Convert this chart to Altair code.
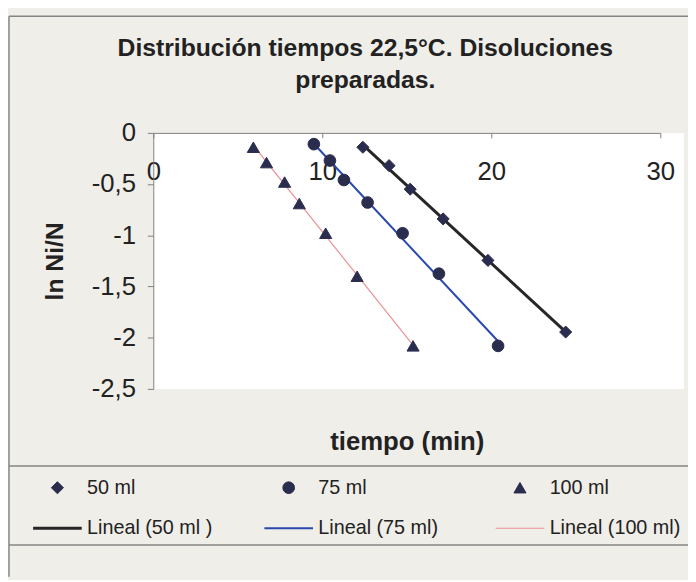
import altair as alt
import pandas as pd

# ---- data ----
t_50 = [12.4, 13.95, 15.2, 17.15, 19.8, 24.4]
v_50 = [-0.14, -0.32, -0.55, -0.84, -1.245, -1.945]
t_75 = [9.5, 10.45, 11.28, 12.68, 14.75, 16.9, 20.4]
v_75 = [-0.11, -0.27, -0.46, -0.68, -0.98, -1.375, -2.08]
t_100 = [5.92, 6.7, 7.77, 8.64, 10.2, 12.06, 15.37]
v_100 = [-0.14, -0.29, -0.48, -0.69, -0.98, -1.40, -2.08]

point_labels = ["50 ml", "75 ml", "100 ml"]
line_labels = ["Lineal (50 ml )", "Lineal (75 ml)", "Lineal (100 ml)"]
x_ticks = [0, 10, 20, 30]
y_ticks = [0, -0.5, -1, -1.5, -2, -2.5]
title_lines = ["Distribución tiempos 22,5°C. Disoluciones", "preparadas."]

rows = []
for lab, llab, ts, vs in zip(point_labels, line_labels, [t_50, t_75, t_100], [v_50, v_75, v_100]):
    for t, v in zip(ts, vs):
        rows.append({"serie": lab, "linea": llab, "t": t, "v": v})
df = pd.DataFrame(rows)

FONT = "Liberation Sans"
TXT = "#222222"
MARK = "#2b2d4e"
LINE = "M-5.5,0H5.5"
domain = point_labels + line_labels

fill_scale = alt.Scale(domain=domain, range=[MARK] * 6)
stroke_scale = alt.Scale(domain=domain, range=[MARK, MARK, MARK, "#262626", "#2848b0", "#ec8f95"])
shape_scale = alt.Scale(domain=domain, range=["diamond", "circle", "triangle-up", LINE, LINE, LINE])
size_scale = alt.Scale(type="ordinal", domain=domain, range=[150, 140, 150, 80, 80, 80])
sw_scale = alt.Scale(type="ordinal", domain=domain, range=[1, 1, 1, 3, 2, 1.2])

XR, W, H = 513, 537, 259

leg = alt.Legend(
    title=None, orient="none", legendX=-107, legendY=349, columns=3,
    direction="horizontal", columnPadding=42, rowPadding=21, labelOffset=20,
    labelFontSize=20, labelFont=FONT, labelColor=TXT, symbolOpacity=1,
    padding=0, gridAlign="all", labelLimit=300,
)

x_enc = alt.X(
    "t:Q",
    scale=alt.Scale(domain=[0, 30], nice=False, range=[0, XR]),
    axis=alt.Axis(
        values=x_ticks, orient="bottom", offset=-H, grid=False,
        labelFontSize=26, labelFont=FONT, labelColor=TXT, labelFlush=False,
        labelPadding=21, tickSize=5, tickColor="#808080", domainColor="#808080",
        title="tiempo (min)", titleFont=FONT, titleFontSize=26, titleFontWeight="bold",
        titleColor=TXT, titleY=312, titleBaseline="middle",
    ),
)
y_enc = alt.Y(
    "v:Q",
    scale=alt.Scale(domain=[-2.5, 0], nice=False, zero=False),
    axis=alt.Axis(
        values=y_ticks, grid=False,
        labelExpr="(datum.value < 0 ? '-' : '') + replace(toString(abs(datum.value)), '.', ',')",
        labelFontSize=26, labelFont=FONT, labelColor=TXT, labelPadding=12,
        tickSize=6, tickColor="#808080", domainColor="#808080",
        title="ln Ni/N", titleFont=FONT, titleFontSize=25, titleFontWeight="bold",
        titleColor=TXT, titleX=-100, titleY=H / 2, titleBaseline="middle",
        titleAngle=270,
    ),
)

lines = alt.Chart(df).transform_regression(
    "t", "v", groupby=["linea"]
).mark_line().encode(
    x=x_enc, y=y_enc,
    stroke=alt.Stroke("linea:N", scale=stroke_scale, legend=leg),
    strokeWidth=alt.StrokeWidth("linea:N", scale=sw_scale, legend=leg),
)

points = alt.Chart(df).mark_point(filled=True, opacity=1).encode(
    x=x_enc, y=y_enc,
    fill=alt.Fill("serie:N", scale=fill_scale, legend=leg),
    stroke=alt.Stroke("serie:N", scale=stroke_scale, legend=leg),
    shape=alt.Shape("serie:N", scale=shape_scale, legend=leg),
    size=alt.Size("serie:N", scale=size_scale, legend=leg),
    strokeWidth=alt.StrokeWidth("serie:N", scale=sw_scale, legend=leg),
)

one = alt.Data(values=[{"k": 1}])
BC = "#858585"
frame = [
    alt.Chart(one).mark_rule(color=BC, strokeWidth=1.5).encode(
        x=alt.value(-146), x2=alt.value(545), y=alt.value(-118)),
    alt.Chart(one).mark_rule(color=BC, strokeWidth=1.5).encode(
        x=alt.value(-146), y=alt.value(-118), y2=alt.value(449)),
    alt.Chart(one).mark_rule(color=BC, strokeWidth=1.5).encode(
        x=alt.value(-146), x2=alt.value(545), y=alt.value(337)),
    alt.Chart(one).mark_rule(color=BC, strokeWidth=1.5).encode(
        x=alt.value(-146), x2=alt.value(545), y=alt.value(417)),
]

chart = alt.layer(*frame, lines, points).properties(
    width=W, height=H,
    padding={"left": 147, "top": 123, "right": 4, "bottom": 190},
    autosize=alt.AutoSizeParams(type="none"),
    background="#f0eee9",
    title=alt.Title(
        title_lines, font=FONT, fontSize=25, fontWeight="bold", color=TXT,
        anchor="middle", frame="group", dx=-54, offset=-78, lineHeight=32,
    ),
).configure_view(fill="white", stroke=None)

chart.save("out.html", embed_options={"renderer": "svg", "actions": False})
